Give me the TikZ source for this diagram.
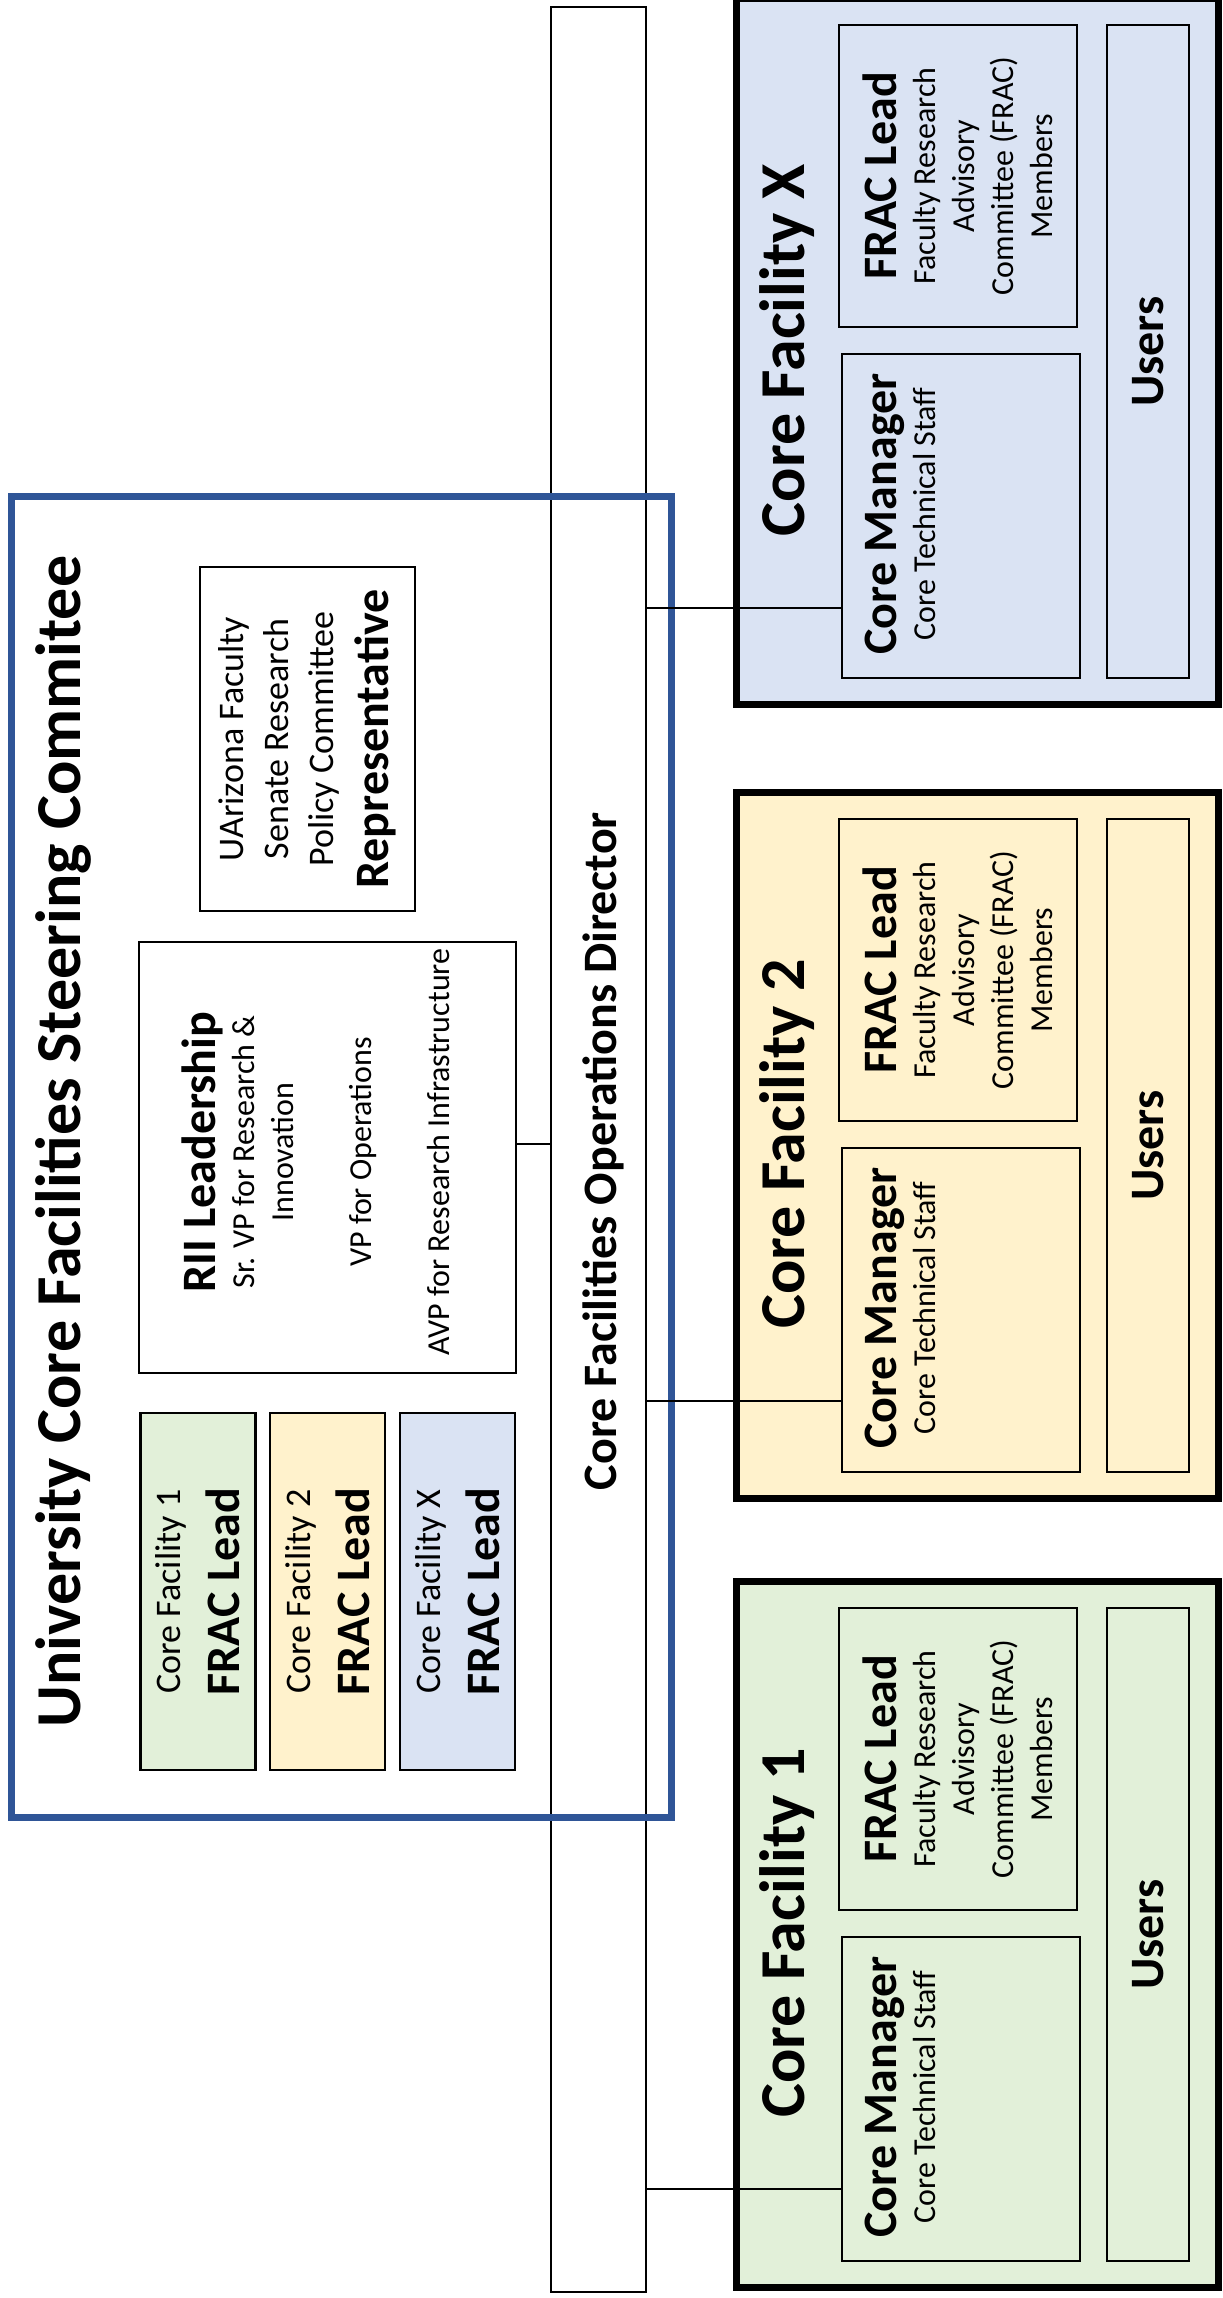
\documentclass[tikz,border=0pt]{standalone}
\usepackage{fontspec}
\setmainfont{Carlito}
\definecolor{cfgreen}{HTML}{E2F0D9}
\definecolor{cfyellow}{HTML}{FFF2CC}
\definecolor{cfbluefill}{HTML}{DAE3F3}
\definecolor{cfframe}{HTML}{2F5597}
\newcommand\fTitle{\fontsize{32}{38}\selectfont\bfseries}
\newcommand\fHead{\fontsize{24}{28}\selectfont\bfseries}
\newcommand\fMid{\fontsize{18}{22.5}\selectfont}
\newcommand\fSmall{\fontsize{16}{19.5}\selectfont}
\tikzset{
  box/.style={draw=black, line width=1.4pt, inner sep=0pt, outer sep=0pt},
  facbox/.style={draw=black, line width=3.5pt, inner sep=0pt, outer sep=0pt},
  vtext/.style={rotate=90, inner sep=0pt, align=center},
  conn/.style={draw=black, line width=1.4pt},
}
\begin{document}
\begin{tikzpicture}[x=0.5pt, y=-0.5pt]
\useasboundingbox (0,0) rectangle (1222,2298);

% Operations director bar
\node[box, fill=white, minimum width=47.5pt, minimum height=1142.5pt] (bar) at (598.5,1149.5) {};
\node[vtext, anchor=base, font=\fHead] (dirtext) at (616,1151) {Core Facilities Operations Director};

% Steering committee frame
\node[draw=cfframe, line width=3.5pt, inner sep=0pt, outer sep=0pt, minimum width=329.75pt, minimum height=660.25pt] (steer) at (341.25,1156.75) {};
\node[vtext, anchor=base, font=\fTitle] (steertitle) at (80,1141.5) {University Core Facilities Steering Commitee};

% FRAC lead boxes in the committee
\node[box, vtext, fill=cfgreen, minimum width=178.5pt, minimum height=57.5pt, font=\fMid] (s1) at (198,1591.5) {Core Facility 1\\[7pt]{\fHead FRAC Lead}};
\node[box, vtext, fill=cfyellow, minimum width=178.5pt, minimum height=57.5pt, font=\fMid] (s2) at (327.5,1591.5) {Core Facility 2\\[7pt]{\fHead FRAC Lead}};
\node[box, vtext, fill=cfbluefill, minimum width=178.5pt, minimum height=57.5pt, font=\fMid] (sX) at (457.5,1591.5) {Core Facility X\\[7pt]{\fHead FRAC Lead}};

% RII leadership
\node[box, minimum width=188.5pt, minimum height=215.5pt] (rii) at (327.5,1157.5) {};
\node[vtext, anchor=north, font=\fSmall] (riitext) at (181,1152) {{\fHead RII Leadership}\\Sr. VP for Research \&\\Innovation\\[19.5pt]VP for Operations\\[19.5pt]AVP for Research Infrastructure};

% Representative
\node[box, vtext, minimum width=172pt, minimum height=107.5pt, font=\fMid] (rep) at (307.5,739) {UArizona Faculty\\Senate Research\\Policy Committee\\[5pt]{\fHead Representative}};

% Core Facility X (T=-2)
\node[facbox, fill=cfbluefill, minimum width=241.25pt, minimum height=353pt] (fX) at (977.25,351) {};
\node[vtext, anchor=base, font=\fTitle] (fXtitle) at (804,350) {Core Facility X};
\node[box, vtext, minimum width=151pt, minimum height=119pt, font=\fSmall] (fXfrac) at (958,176) {{\fHead FRAC Lead}\\Faculty Research\\Advisory\\Committee (FRAC)\\Members};
\node[box, minimum width=119pt, minimum height=162pt] (fXcm) at (961,516) {};
\node[vtext, anchor=north, font=\fSmall] (fXcmtext) at (865,514) {{\fHead Core Manager}\\Core Technical Staff};
\node[box, vtext, minimum width=326.5pt, minimum height=41pt, font=\fHead] (fXusers) at (1148,351.5) {Users};

% Core Facility 2 (T=792)
\node[facbox, fill=cfyellow, minimum width=241.25pt, minimum height=353pt] (f2) at (977.25,1145) {};
\node[vtext, anchor=base, font=\fTitle] (f2title) at (804,1144) {Core Facility 2};
\node[box, vtext, minimum width=151pt, minimum height=119pt, font=\fSmall] (f2frac) at (958,970) {{\fHead FRAC Lead}\\Faculty Research\\Advisory\\Committee (FRAC)\\Members};
\node[box, minimum width=119pt, minimum height=162pt] (f2cm) at (961,1310) {};
\node[vtext, anchor=north, font=\fSmall] (f2cmtext) at (865,1308) {{\fHead Core Manager}\\Core Technical Staff};
\node[box, vtext, minimum width=326.5pt, minimum height=41pt, font=\fHead] (f2users) at (1148,1145.5) {Users};

% Core Facility 1 (T=1581)
\node[facbox, fill=cfgreen, minimum width=241.25pt, minimum height=353pt] (f1) at (977.25,1934) {};
\node[vtext, anchor=base, font=\fTitle] (f1title) at (804,1933) {Core Facility 1};
\node[box, vtext, minimum width=151pt, minimum height=119pt, font=\fSmall] (f1frac) at (958,1759) {{\fHead FRAC Lead}\\Faculty Research\\Advisory\\Committee (FRAC)\\Members};
\node[box, minimum width=119pt, minimum height=162pt] (f1cm) at (961,2099) {};
\node[vtext, anchor=north, font=\fSmall] (f1cmtext) at (865,2097) {{\fHead Core Manager}\\Core Technical Staff};
\node[box, vtext, minimum width=326.5pt, minimum height=41pt, font=\fHead] (f1users) at (1148,1934.5) {Users};

% connectors
\coordinate (kR) at (0,1144);
\coordinate (kX) at (0,608);
\coordinate (k2) at (0,1401);
\coordinate (k1) at (0,2189);
\draw[conn] (rii.east |- kR) -- (bar.west |- kR);
\draw[conn] (bar.east |- kX) -- (fXcm.west |- kX);
\draw[conn] (bar.east |- k2) -- (f2cm.west |- k2);
\draw[conn] (bar.east |- k1) -- (f1cm.west |- k1);
\end{tikzpicture}
\end{document}
